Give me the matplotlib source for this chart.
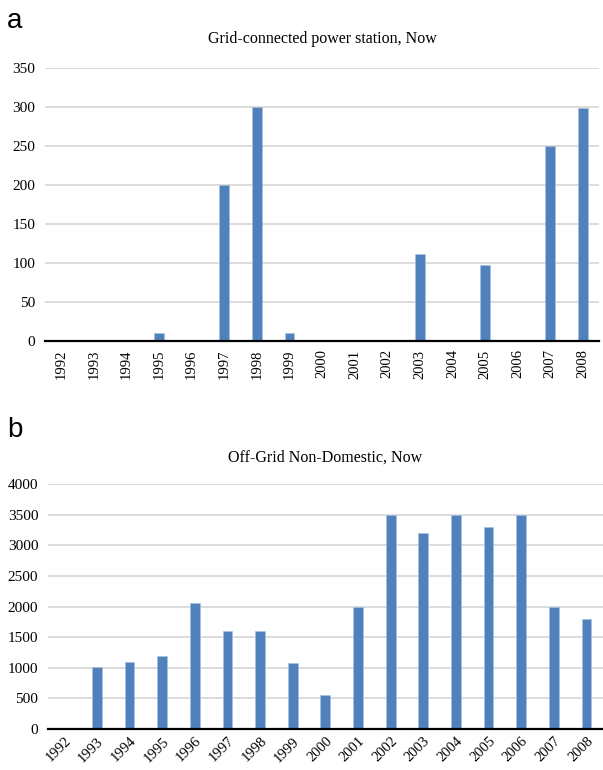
import matplotlib.pyplot as plt
import numpy as np

years = [str(y) for y in range(1992, 2009)]

# panel a: Grid-connected power station
grid_vals = [0, 0, 0, 10, 0, 200, 300, 10, 0, 0, 0, 112, 0, 98, 0, 250, 298]

# panel b: Off-Grid Non-Domestic
offgrid_vals = [0, 1010, 1100, 1200, 2050, 1600, 1600, 1070, 550, 2000,
                3500, 3200, 3500, 3300, 3500, 2000, 1800]

bar_color = "#4f81bd"
serif = ["Liberation Serif", "DejaVu Serif"]

fig = plt.figure(figsize=(6.03, 7.70), dpi=100)


def style_axes(ax, ymax, step):
    ax.set_ylim(0, ymax)
    ax.set_xlim(-0.5, len(years) - 0.5)
    ax.set_yticks(np.arange(0, ymax + 1, step))
    ax.yaxis.grid(True, color="#d9d9d9", linewidth=1.3)
    ax.set_axisbelow(True)
    for s in ["top", "right", "left"]:
        ax.spines[s].set_visible(False)
    ax.spines["bottom"].set_color("black")
    ax.spines["bottom"].set_linewidth(1.6)
    ax.tick_params(axis="both", length=0)
    ax.tick_params(axis="y", labelsize=11, pad=7)
    ax.tick_params(axis="x", labelsize=10.5)
    for lab in ax.get_xticklabels() + ax.get_yticklabels():
        lab.set_family(serif)


x = np.arange(len(years))

# panel a
ax1 = fig.add_axes([0.0746, 0.557, 0.919, 0.355])
ax1.bar(x, grid_vals, width=0.3, color=bar_color, edgecolor="#a9c1e0", linewidth=0.5)
ax1.set_xticks(x)
ax1.set_xticklabels(years, rotation=90)
style_axes(ax1, 350, 50)
ax1.tick_params(axis="x", pad=6)
ax1.set_title("Grid-connected power station, Now", family=serif, fontsize=11.5, pad=17.5)
fig.text(0.012, 0.963, "a", fontsize=20, family="Liberation Sans")

# panel b
ax2 = fig.add_axes([0.0796, 0.0532, 0.920, 0.3182])
ax2.bar(x, offgrid_vals, width=0.3, color=bar_color, edgecolor="#a9c1e0", linewidth=0.5)
ax2.set_xticks(x)
ax2.set_xticklabels(years, rotation=45, ha="right", rotation_mode="anchor")
style_axes(ax2, 4000, 500)
ax2.tick_params(axis="x", pad=4)
ax2.set_title("Off-Grid Non-Domestic, Now", family=serif, fontsize=11.5, pad=16)
fig.text(0.012, 0.432, "b", fontsize=20, family="Liberation Sans")

fig.savefig("out.png", dpi=100)
